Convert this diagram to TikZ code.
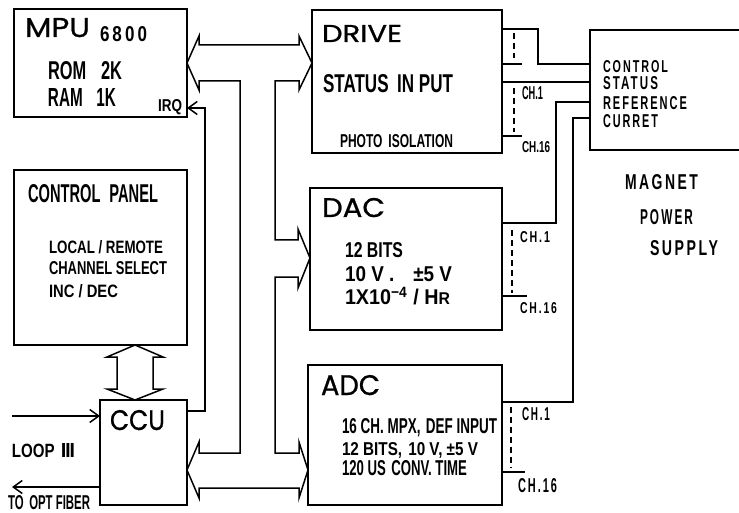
\documentclass[tikz,border=0pt]{standalone}
\usepackage{fontspec}
\usepackage{graphicx}
\usetikzlibrary{arrows.meta}
\newfontfamily\lblf{Liberation Sans}
\newfontfamily\lblsf{Liberation Sans}[LetterSpace=18]
\newfontfamily\hdf{Poppins}[FakeBold=0.8]
\newfontfamily\djv{DejaVu Sans}
\newcommand{\fitt}[3]{\resizebox{#1pt}{#2pt}{\lblf\bfseries #3}}
\newcommand{\fits}[3]{\resizebox{#1pt}{#2pt}{\lblsf\bfseries #3}}
\newcommand{\fith}[3]{\resizebox{#1pt}{#2pt}{\hdf #3}}
\tikzset{
  box/.style={draw, line width=1.5pt, inner sep=0, outer sep=0},
  txt/.style={inner sep=0, outer sep=0, anchor=base west},
  wire/.style={line width=1.5pt},
  chdash/.style={line width=1.5pt, dash pattern=on 6pt off 4pt},
  arr/.style={line width=1.5pt, -{Straight Barb[length=9pt,width=13pt,line width=1.5pt]}},
  busline/.style={line width=1.5pt, line join=miter}
}
\begin{document}
\begin{tikzpicture}[x=1pt,y=-1pt]
\useasboundingbox (0,0) rectangle (739,513);
% boxes
\node[box, minimum width=173pt, minimum height=108pt] (mpu) at (100.5,63) {};
\node[box, minimum width=173pt, minimum height=175pt] (cp) at (100.5,257.5) {};
\node[box, minimum width=87pt, minimum height=105pt] (ccu) at (143.5,452.5) {};
\node[box, minimum width=190pt, minimum height=143pt] (drive) at (407,81.5) {};
\node[box, minimum width=192pt, minimum height=142pt] (dac) at (406,259) {};
\node[box, minimum width=194pt, minimum height=140pt] (adc) at (405,435) {};
\node[box, minimum width=170pt, minimum height=120pt] (mps) at (675,90) {};
% MPU texts
\node[txt] (tmpu) at (25,37) {\fith{65}{19}{MPU}};
\node[txt] (t6800) at (100,42) {\fits{47}{15}{6800}};
\node[txt] (trom) at (48,80) {\fitt{74}{18}{ROM\hspace{0.9em}2K}};
\node[txt] (tram) at (48,107) {\fitt{68}{18}{RAM\hspace{0.9em}1K}};
\node[txt] (tirq) at (158,112) {\fitt{24}{12}{IRQ}};
% control panel
\node[txt] (tcp) at (28,203) {\fitt{130}{18}{CONTROL\hspace{0.6em}PANEL}};
\node[txt] (tlr) at (49,254) {\fitt{114}{13}{LOCAL / REMOTE}};
\node[txt] (tcs) at (49,274) {\fitt{118}{13}{CHANNEL SELECT}};
\node[txt] (tid) at (49,297) {\fitt{69}{13}{INC / DEC}};
% CCU
\node[txt] (tccu) at (110,430) {\fith{55}{20}{CCU}};
\node[txt] (tloop) at (12,457) {\fitt{63}{14}{LOOP\hspace{0.4em}{\djv\bfseries Ⅲ}}};
\node[txt] (tfib) at (8,509) {\fitt{82}{14}{TO\hspace{0.5em}OPT FIBER}};
% DRIVE
\node[txt] (tdrive) at (322,42) {\fith{80}{17}{DRIVE}};
\node[txt] (tsip) at (323,93) {\fitt{130}{18}{STATUS\hspace{0.5em}IN PUT}};
\node[txt] (tpi) at (340,148) {\fitt{113}{13}{PHOTO\hspace{0.5em}ISOLATION}};
\node[txt] (tdc1) at (522,100) {\fitt{21}{13}{CH.1}};
\node[txt] (tdc16) at (522,153) {\fitt{28}{11}{CH.16}};
% DAC
\node[txt] (tdac) at (322,217) {\fith{63}{19}{DAC}};
\node[txt] (tdb) at (345,258) {\fitt{58}{15}{12 BITS}};
\node[txt] (tdv) at (345,282) {\fitt{107}{15}{10 V .\hspace{1em}±5 V}};
\node[txt] (tdh) at (345,305) {\fitt{105}{18}{1X10\textsuperscript{−4} / H{\footnotesize R}}};
\node[txt] (tac1) at (520,243) {\fits{30}{11}{CH.1}};
\node[txt] (tac16) at (520,313) {\fits{37}{11}{CH.16}};
% ADC
\node[txt] (tadc) at (321,395) {\fith{59}{20}{ADC}};
\node[txt] (tam) at (342,433) {\fitt{155}{15}{16 CH. MPX,\hspace{0.4em}DEF INPUT}};
\node[txt] (tab) at (342,455) {\fitt{136}{13}{12 BITS,\hspace{0.4em}10 V, ±5 V}};
\node[txt] (tat) at (342,475) {\fitt{125}{15}{120 US\hspace{0.4em}CONV. TIME}};
\node[txt] (tbc1) at (522,420) {\fits{28}{13}{CH.1}};
\node[txt] (tbc16) at (518,492) {\fits{39}{14}{CH.16}};
% magnet power supply
\node[txt] (tctl) at (603,73) {\fits{65}{12}{CONTROL}};
\node[txt] (tsta) at (603,90) {\fits{55}{13}{STATUS}};
\node[txt] (tref) at (603,110) {\fits{84}{13}{REFERENCE}};
\node[txt] (tcur) at (603,128) {\fits{55}{13}{CURRET}};
\node[txt] (tmag) at (625,190) {\fits{73}{15}{MAGNET}};
\node[txt] (tpow) at (640,225) {\fits{53}{15}{POWER}};
\node[txt] (tsup) at (650,255) {\fits{68}{15}{SUPPLY}};
% bus
\draw[busline] (mpu.east |- 0,63) -- (199,36) -- (199,45) -- (299,45) -- (299,36)
  -- (drive.west |- 0,63) -- (299,90) -- (299,81) -- (275,81) -- (275,240) -- (298,240)
  -- (298,229) -- (dac.west |- 0,258) -- (298,288) -- (298,277) -- (275,277) -- (275,453)
  -- (299,453) -- (299,442) -- (adc.west |- 0,470) -- (299,498) -- (299,488) -- (199,488)
  -- (199,498) -- (ccu.east |- 0,470) -- (199,442) -- (199,453) -- (240,453) -- (240,81)
  -- (199,81) -- (199,90) -- cycle;
% control panel <-> CCU
\draw[busline] (cp.south -| 135,0) -- (163,357) -- (153,357) -- (153,389) -- (163,389)
  -- (ccu.north -| 135,0) -- (107,389) -- (117,389) -- (117,357) -- (107,357) -- cycle;
% IRQ
\draw[arr] (ccu.east |- 0,411) -- (205,411) -- (205,108) -- (mpu.east |- 0,108);
% loop
\coordinate (loopin) at (12,416);
\coordinate (fibout) at (12,487);
\draw[arr] (loopin) -- (ccu.west |- 0,416);
\draw[arr] (ccu.west |- 0,487) -- (fibout);
% drive channels
\draw[wire] (drive.east |- 0,29) -- (538,29) -- (538,64) -- (mps.west |- 0,64);
\draw[wire] (drive.east |- 0,64) -- (522,64);
\draw[wire] (drive.east |- 0,82) -- (mps.west |- 0,82);
\draw[wire] (drive.east |- 0,136) -- (522,136);
\draw[chdash] (514,33) -- (514,58);
\draw[chdash] (514,88) -- (514,132);
% DAC channels
\draw[wire] (mps.west |- 0,102) -- (556,102) -- (556,223) -- (dac.east |- 0,223);
\draw[wire] (dac.east |- 0,296) -- (527,296);
\draw[chdash] (512,230) -- (512,293);
% ADC channels
\draw[wire] (mps.west |- 0,118) -- (573,118) -- (573,402) -- (adc.east |- 0,402);
\draw[wire] (adc.east |- 0,472) -- (525,472);
\draw[chdash] (511,407) -- (511,468);
\end{tikzpicture}
\end{document}
